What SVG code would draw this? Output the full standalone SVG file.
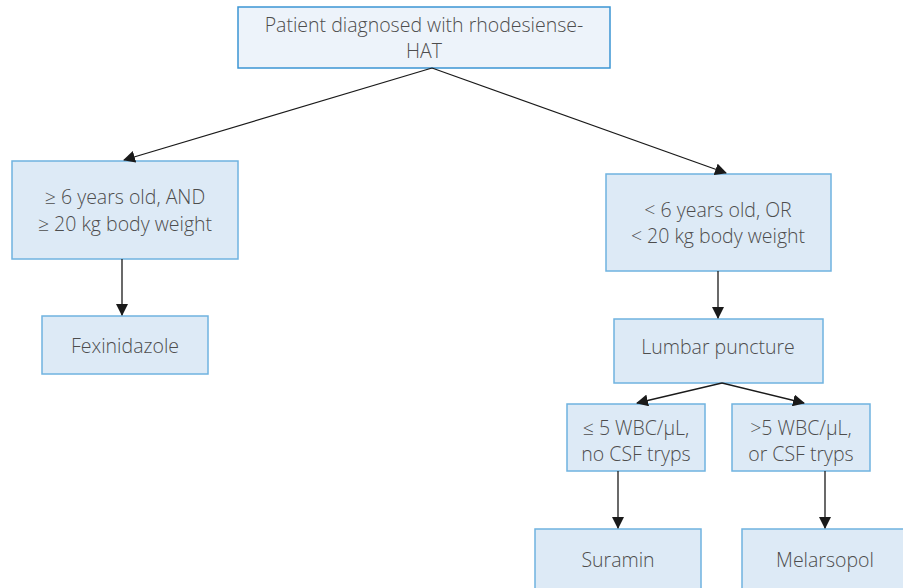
<svg xmlns="http://www.w3.org/2000/svg" width="903" height="588" viewBox="0 0 903 588">
<style>
.box{fill:#ddeaf6;stroke:#6fb3e0;stroke-width:1.5}
.top{fill:#edf3fa;stroke:#3b95d3;stroke-width:1.5}
text{font-family:"Open Sans","Noto Sans",sans-serif;font-size:19.5px;font-weight:300;fill:#4d4d4d;text-anchor:middle}
.c{stroke:#1a1a1a;stroke-width:1.3;fill:none;marker-end:url(#ah)}
</style>
<defs>
<marker id="ah" markerWidth="12" markerHeight="12" viewBox="0 0 12 12" refX="11" refY="6" orient="auto" markerUnits="userSpaceOnUse">
<path d="M0,0 L12,6 L0,12 Z" fill="#1a1a1a"/>
</marker>
</defs>
<g id="n-top"><rect class="top" x="238" y="7" width="372" height="61"/><text x="424" y="32">Patient diagnosed with rhodesiense-</text><text x="424" y="58">HAT</text></g>
<g id="n-ge6"><rect class="box" x="12" y="161" width="226" height="98"/><text x="125" y="204">≥ 6 years old, AND</text><text x="125" y="231">≥ 20 kg body weight</text></g>
<g id="n-fex"><rect class="box" x="42" y="316" width="166" height="58"/><text x="125" y="353">Fexinidazole</text></g>
<g id="n-lt6"><rect class="box" x="606" y="174" width="225" height="97"/><text x="718" y="217">&lt; 6 years old, OR</text><text x="718" y="243">&lt; 20 kg body weight</text></g>
<g id="n-lp"><rect class="box" x="614" y="319" width="209" height="64"/><text x="718" y="354">Lumbar puncture</text></g>
<g id="n-le5"><rect class="box" x="567" y="404" width="138" height="67"/><text x="636" y="435">≤ 5 WBC/µL,</text><text x="636" y="461">no CSF tryps</text></g>
<g id="n-gt5"><rect class="box" x="732" y="404" width="138" height="67"/><text x="801" y="435">&gt;5 WBC/µL,</text><text x="801" y="461">or CSF tryps</text></g>
<g id="n-sur"><rect class="box" x="535" y="529" width="166" height="62"/><text x="618" y="567">Suramin</text></g>
<g id="n-mel"><rect class="box" x="742" y="529" width="166" height="62"/><text x="825" y="567">Melarsopol</text></g>
<g id="connectors">
<line class="c" x1="432" y1="68" x2="124" y2="160"/>
<line class="c" x1="432" y1="68" x2="726" y2="173"/>
<line class="c" x1="122" y1="259" x2="122" y2="315"/>
<line class="c" x1="718" y1="271" x2="718" y2="318"/>
<line class="c" x1="722" y1="383" x2="637" y2="403"/>
<line class="c" x1="722" y1="383" x2="804" y2="403"/>
<line class="c" x1="618" y1="471" x2="618" y2="528"/>
<line class="c" x1="825" y1="471" x2="825" y2="528"/>
</g>
</svg>
